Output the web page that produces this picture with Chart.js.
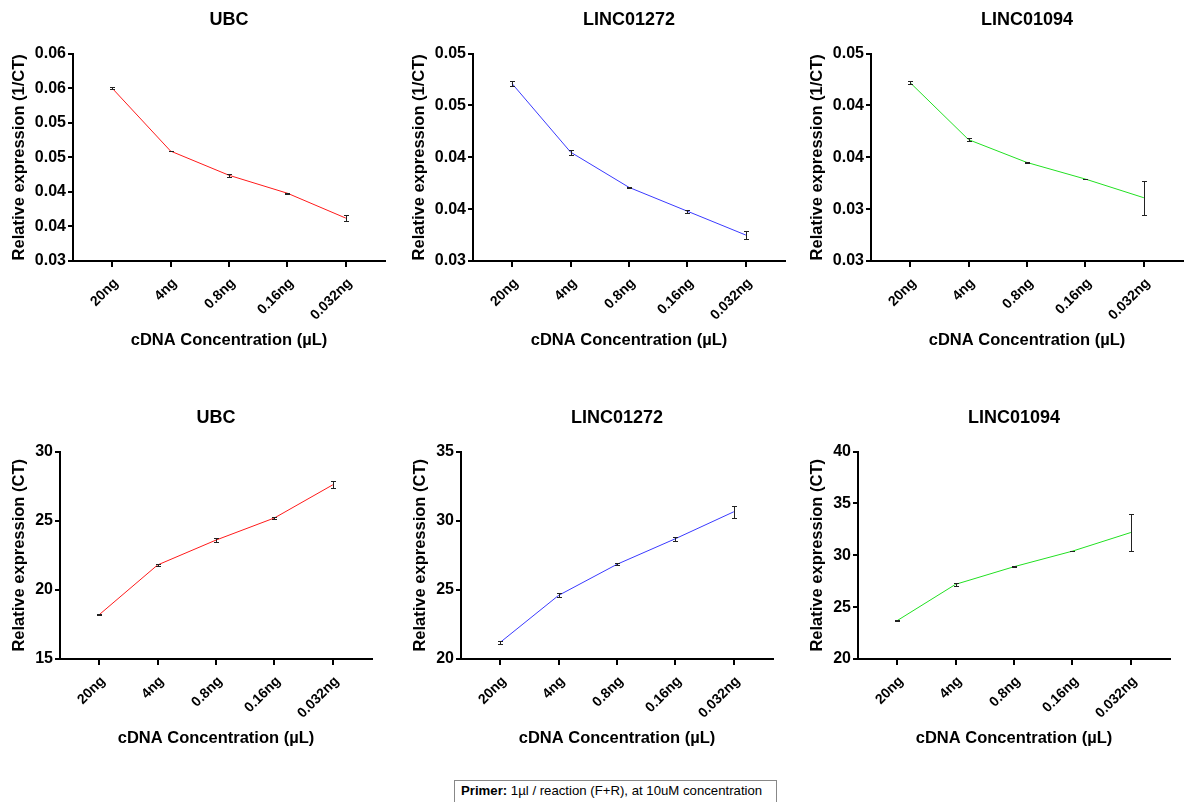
<!DOCTYPE html>
<html>
<head>
<meta charset="utf-8">
<script src="https://cdn.jsdelivr.net/npm/chart.js@4"></script>
<style>
    body { margin: 0; background: #fff; width: 1188px; height: 802px; overflow: hidden; position: relative; font-family: 'Liberation Sans', Arial, sans-serif; }
    canvas { position: absolute; }
    #footer { position: absolute; left: 454px; top: 780px; width: 323px; height: 26px; box-sizing: border-box; border: 1px solid #888; padding: 2px 0 0 6px; font-size: 13.2px; line-height: 16px; color: #000; white-space: nowrap; }
</style>
</head>
<body>
<canvas id="ubcInvChart" width="387" height="360" style="left:0px;top:0px"></canvas>
<canvas id="linc72InvChart" width="387" height="360" style="left:400px;top:0px"></canvas>
<canvas id="linc94InvChart" width="387" height="360" style="left:798px;top:0px"></canvas>
<canvas id="ubcCtChart" width="374" height="360" style="left:0px;top:398px"></canvas>
<canvas id="linc72CtChart" width="374" height="360" style="left:401px;top:398px"></canvas>
<canvas id="linc94CtChart" width="374" height="360" style="left:798px;top:398px"></canvas>
<div id="footer"><b>Primer:</b> 1µl / reaction (F+R), at 10uM concentration</div>
<script>
// Data
const categories = ['20ng', '4ng', '0.8ng', '0.16ng', '0.032ng'];

const ubcInv = [0.0550, 0.0459, 0.0424, 0.0398, 0.0362];
const ubcInvErr = [0.0001, 0.00005, 0.0002, 0.0001, 0.0004];
const linc72Inv = [0.0471, 0.0405, 0.0371, 0.0348, 0.0325];
const linc72InvErr = [0.00024, 0.00023, 0.00006, 0.00013, 0.0004];
const linc94Inv = [0.0422, 0.0367, 0.0345, 0.0329, 0.0311];
const linc94InvErr = [0.00016, 0.00016, 0.00003, 0.00003, 0.00166];

const ubcCt = [18.2, 21.8, 23.6, 25.2, 27.6];
const ubcCtErr = [0.03, 0.05, 0.17, 0.08, 0.24];
const linc72Ct = [21.2, 24.6, 26.85, 28.7, 30.65];
const linc72CtErr = [0.12, 0.15, 0.07, 0.15, 0.43];
const linc94Ct = [23.7, 27.2, 28.9, 30.4, 32.2];
const linc94CtErr = [0.06, 0.13, 0.03, 0.03, 1.76];

// Tick values and their labels as printed
const ubcInvTicks = [0.03, 0.035, 0.04, 0.045, 0.05, 0.055, 0.06];
const ubcInvTickLabels = ['0.03', '0.04', '0.04', '0.05', '0.05', '0.06', '0.06'];
const linc72InvTicks = [0.03, 0.035, 0.04, 0.045, 0.05];
const linc72InvTickLabels = ['0.03', '0.04', '0.04', '0.05', '0.05'];
const linc94InvTicks = [0.025, 0.03, 0.035, 0.04, 0.045];
const linc94InvTickLabels = ['0.03', '0.03', '0.04', '0.04', '0.05'];
const ubcCtTicks = [15, 20, 25, 30];
const linc72CtTicks = [20, 25, 30, 35];
const linc94CtTicks = [20, 25, 30, 35, 40];

const FONT = "'Liberation Sans', Arial, sans-serif";
Chart.defaults.font.family = FONT;
Chart.defaults.color = '#000';

// draws mean +/- error with caps
const errorBars = {
    id: 'errorBars',
    afterDatasetsDraw(chart) {
        const ctx = chart.ctx;
        const yScale = chart.scales.y;
        const ds = chart.data.datasets[0];
        const meta = chart.getDatasetMeta(0);
        ctx.save();
        ctx.strokeStyle = '#222';
        ctx.lineWidth = 1;
        meta.data.forEach(function(pt, i) {
            const x = Math.round(pt.x) + 0.5;
            const top = Math.round(yScale.getPixelForValue(ds.data[i].y + ds.errors[i])) + 0.5;
            const bot = Math.round(yScale.getPixelForValue(ds.data[i].y - ds.errors[i])) + 0.5;
            ctx.beginPath();
            ctx.moveTo(x, top); ctx.lineTo(x, bot);
            ctx.moveTo(x - 2.5, top); ctx.lineTo(x + 2.5, top);
            ctx.moveTo(x - 2.5, bot); ctx.lineTo(x + 2.5, bot);
            ctx.stroke();
        });
        ctx.restore();
    }
};

function makePanel(id, title, values, errors, color, yTicks, yLabels, yTitle, yWidth) {
    const ctx = document.getElementById(id).getContext('2d');
    return new Chart(ctx, {
        type: 'line',
        data: {
            datasets: [{
                data: values.map((v, i) => ({ x: i, y: v })),
                errors: errors,
                borderColor: color,
                borderWidth: 1,
                pointRadius: 0,
                tension: 0,
                fill: false
            }]
        },
        options: {
            responsive: false,
            animation: false,
            layout: { padding: { left: 0, right: 2, top: 0, bottom: 0 } },
            plugins: {
                legend: { display: false },
                tooltip: { enabled: false },
                title: {
                    display: true,
                    text: title,
                    fullSize: false,
                    color: '#000',
                    font: { size: 18, weight: 'bold' },
                    padding: { top: 9, bottom: 23 }
                }
            },
            scales: {
                x: {
                    type: 'linear',
                    min: -0.67,
                    max: 4.67,
                    afterBuildTicks: function(scale) {
                        scale.ticks = categories.map((c, i) => ({ value: i }));
                    },
                    afterFit: function(scale) { scale.height = 99; },
                    ticks: {
                        autoSkip: false,
                        minRotation: 45,
                        maxRotation: 45,
                        padding: 8,
                        labelOffset: 4,
                        font: { size: 14, weight: 'bold' },
                        callback: function(value) { return categories[value]; }
                    },
                    grid: { drawOnChartArea: false, drawTicks: true, tickLength: 6, lineWidth: 2, color: '#000' },
                    border: { display: true, color: '#000', width: 2 },
                    title: {
                        display: true,
                        text: 'cDNA Concentration (µL)',
                        font: { size: 16.5, weight: 'bold' },
                        padding: { top: 0, bottom: 10 }
                    }
                },
                y: {
                    min: yTicks[0],
                    max: yTicks[yTicks.length - 1],
                    afterBuildTicks: function(scale) {
                        scale.ticks = yTicks.map(v => ({ value: v }));
                    },
                    afterFit: function(scale) { scale.width = yWidth; },
                    ticks: {
                        padding: 2,
                        font: { size: 16, weight: 'bold' },
                        callback: function(value, index) { return yLabels[index]; }
                    },
                    grid: { drawOnChartArea: false, drawTicks: true, tickLength: 5, lineWidth: 2, color: '#000' },
                    border: { display: true, color: '#000', width: 2 },
                    title: {
                        display: true,
                        text: yTitle,
                        font: { size: 16.5, weight: 'bold' },
                        padding: { top: 10, bottom: 0 }
                    }
                }
            }
        },
        plugins: [errorBars]
    });
}

const RED = '#ff1a1a';
const BLUE = '#3a3aff';
const GREEN = '#22e022';
const invTitle = 'Relative expression (1/CT)';
const ctTitle = 'Relative expression (CT)';
const ctLabels = t => t.map(String);

makePanel('ubcInvChart', 'UBC', ubcInv, ubcInvErr, RED, ubcInvTicks, ubcInvTickLabels, invTitle, 73);
makePanel('linc72InvChart', 'LINC01272', linc72Inv, linc72InvErr, BLUE, linc72InvTicks, linc72InvTickLabels, invTitle, 73);
makePanel('linc94InvChart', 'LINC01094', linc94Inv, linc94InvErr, GREEN, linc94InvTicks, linc94InvTickLabels, invTitle, 73);
makePanel('ubcCtChart', 'UBC', ubcCt, ubcCtErr, RED, ubcCtTicks, ctLabels(ubcCtTicks), ctTitle, 60);
makePanel('linc72CtChart', 'LINC01272', linc72Ct, linc72CtErr, BLUE, linc72CtTicks, ctLabels(linc72CtTicks), ctTitle, 60);
makePanel('linc94CtChart', 'LINC01094', linc94Ct, linc94CtErr, GREEN, linc94CtTicks, ctLabels(linc94CtTicks), ctTitle, 60);
</script>
</body>
</html>
